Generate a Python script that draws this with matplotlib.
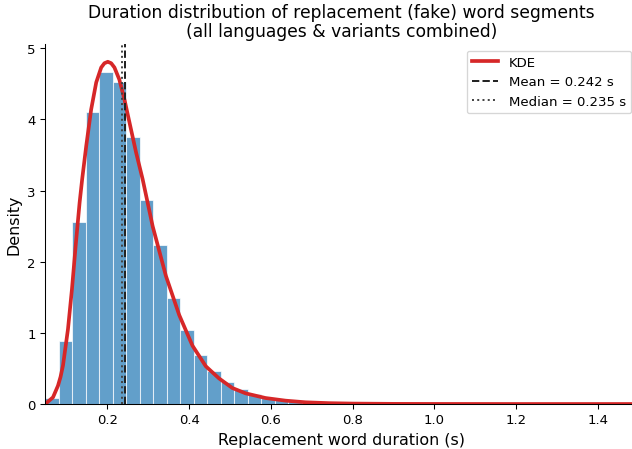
import numpy as np
import matplotlib.pyplot as plt

# histogram (density), 44 bins
bin_start = 0.047
bin_width = 0.0331
hist_density = [0.084, 0.885, 2.556, 4.10, 4.67, 4.52, 3.75, 2.865, 2.233, 1.493,
                1.037, 0.690, 0.460, 0.309, 0.211, 0.136, 0.084, 0.056, 0.037, 0.025,
                0.016, 0.011, 0.007, 0.005, 0.004, 0.003, 0.002, 0.002, 0.001, 0.001,
                0.001, 0.001, 0.001, 0.0005, 0.0005, 0.0005, 0.0005, 0.0003, 0.0003, 0.0003,
                0.0002, 0.0002, 0.0002, 0.0002]

# KDE curve
kde_x = [0.047, 0.0505, 0.0666, 0.0788, 0.085, 0.091, 0.1032, 0.113, 0.122, 0.1317,
         0.138, 0.148, 0.160, 0.1724, 0.1846, 0.1925, 0.2008, 0.209, 0.217, 0.229,
         0.2415, 0.2537, 0.270, 0.286, 0.3105, 0.343, 0.3756, 0.408, 0.4407, 0.473,
         0.5056, 0.538, 0.587, 0.636, 0.685, 0.742, 0.80, 0.90, 1.00, 1.20, 1.50]
kde_y = [0.008, 0.014, 0.094, 0.257, 0.38, 0.54, 1.05, 1.615, 2.22, 2.83,
         3.16, 3.63, 4.14, 4.52, 4.73, 4.79, 4.81, 4.79, 4.73, 4.56,
         4.28, 3.96, 3.535, 3.16, 2.50, 1.80, 1.25, 0.82, 0.53, 0.36,
         0.225, 0.15, 0.084, 0.047, 0.024, 0.012, 0.006, 0.002, 0.001, 0.0, 0.0]

mean_dur = 0.242
median_dur = 0.235

edges = bin_start + bin_width * np.arange(len(hist_density) + 1)

fig, ax = plt.subplots(figsize=(632 / 95, 450 / 95), dpi=95)
# axes runs a little past the right edge, as in the cropped original
fig.subplots_adjust(left=45 / 632, right=638 / 632, bottom=0.10, top=0.90)

ax.bar(edges[:-1], hist_density, width=bin_width, align='edge',
       color='#1f77b4', alpha=0.7, edgecolor='white', linewidth=0.8)
ax.plot(kde_x, kde_y, color='#d62728', linewidth=2.8, label='KDE')
ax.axvline(mean_dur, color='#222222', linestyle='--', linewidth=1.5,
           label=f'Mean = {mean_dur:.3f} s')
ax.axvline(median_dur, color='#444444', linestyle=':', linewidth=1.5,
           label=f'Median = {median_dur:.3f} s')

ax.set_xlim(0.047, 1.4987)
ax.set_ylim(0, 5.06)
ax.spines['top'].set_visible(False)
ax.spines['right'].set_visible(False)
ax.tick_params(labelsize=10)

ax.set_xlabel('Replacement word duration (s)', fontsize=12)
ax.set_ylabel('Density', fontsize=12)
ax.set_title('Duration distribution of replacement (fake) word segments\n'
             '(all languages & variants combined)', fontsize=13, linespacing=1.1)
ax.legend(loc='upper right', fontsize=10)

fig.savefig('out.png', dpi=95)
